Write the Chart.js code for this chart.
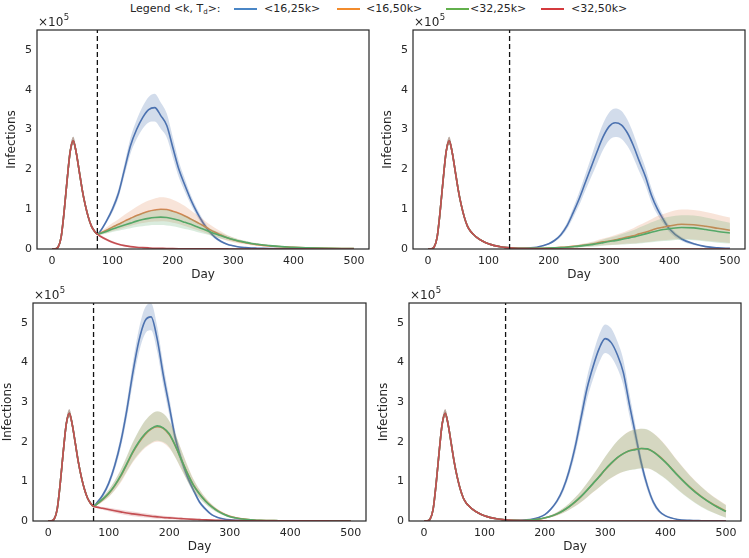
<!DOCTYPE html>
<html>
<head>
<meta charset="utf-8">
<script src="https://cdn.jsdelivr.net/npm/chart.js@4"></script>
<style>
  body { margin: 0; background: #fff; font-family: "DejaVu Sans", sans-serif; color: #262626; }
  #wrap { position: relative; width: 749px; height: 558px; }
  .panel { position: absolute; }
  .lg { position: absolute; top: 2px; font-size: 11px; line-height: 14px; white-space: nowrap; }
  .lg sub { font-size: 7px; vertical-align: -2px; }
  .ln { position: absolute; top: 8px; height: 2px; width: 23px; }
</style>
</head>
<body>
<div id="wrap">
  <span class="lg" style="left:130px">Legend &lt;k, T<sub>d</sub>&gt;:</span>
  <span class="ln" style="left:234px;background:#4a86c6"></span><span class="lg" style="left:264px">&lt;16,25k&gt;</span>
  <span class="ln" style="left:337px;background:#f28b2c"></span><span class="lg" style="left:366px">&lt;16,50k&gt;</span>
  <span class="ln" style="left:446px;background:#62b04c"></span><span class="lg" style="left:470px">&lt;32,25k&gt;</span>
  <span class="ln" style="left:541px;background:#d43a3d"></span><span class="lg" style="left:571px">&lt;32,50k&gt;</span>

  <div class="panel" style="left:5px;top:10px;width:366px;height:272px"><canvas id="pA"></canvas></div>
  <div class="panel" style="left:381px;top:10px;width:366px;height:272px"><canvas id="pB"></canvas></div>
  <div class="panel" style="left:1px;top:283px;width:367px;height:271px"><canvas id="pC"></canvas></div>
  <div class="panel" style="left:377px;top:283px;width:366px;height:271px"><canvas id="pD"></canvas></div>
</div>
<script>
// infections in units of 1e5, sampled on these days
const days = [0,5,10,15,20,25,30,35,40,45,50,55,60,65,70,
  75,80,90,100,110,120,130,140,150,160,170,180,190,200,210,220,230,240,250,260,270,280,290,300,
  310,320,330,340,350,360,370,380,390,400,420,440,460,480,500];
const xTicks = [0,100,200,300,400,500];
const yTicks = [0,1,2,3,4,5];
const seriesNames = ["<16,25k>", "<16,50k>", "<32,25k>", "<32,50k>"];

// first wave, days 0..70, same for every run
const firstWave = [0,0.005,0.05,0.3,0.95,1.75,2.45,2.72,2.42,1.95,1.48,1.1,0.8,0.58,0.45];
const firstWaveBand = [0,0.002,0.01,0.03,0.06,0.08,0.1,0.1,0.09,0.07,0.05,0.04,0.03,0.02,0.02];

// top left: switch at day 75 (days 75..500)
const a16_25 = [0.37,0.45,0.7,1.0,1.4,2.0,2.6,3.0,3.3,3.5,3.55,3.35,3.1,2.55,2.0,1.6,1.23,0.92,0.66,0.45,0.29,0.19,0.12,0.08,0.05,0.035,0.025,0.02,0.015,0.012,0.01,0.008,0.007,0.006,0.005,0.004,0.003,0.002,0.002];
const a16_50 = [0.37,0.4,0.47,0.55,0.62,0.7,0.77,0.84,0.9,0.95,0.98,1.0,0.99,0.95,0.9,0.83,0.75,0.67,0.59,0.5,0.42,0.35,0.28,0.23,0.19,0.16,0.13,0.11,0.09,0.075,0.065,0.055,0.047,0.04,0.03,0.022,0.016,0.012,0.01];
const a32_25 = [0.37,0.39,0.44,0.5,0.55,0.6,0.65,0.7,0.74,0.77,0.79,0.8,0.79,0.76,0.72,0.67,0.62,0.56,0.5,0.44,0.38,0.33,0.28,0.24,0.2,0.17,0.14,0.12,0.1,0.085,0.072,0.06,0.05,0.043,0.032,0.024,0.018,0.013,0.01];
const a32_50 = [0.37,0.32,0.24,0.17,0.12,0.085,0.06,0.045,0.035,0.027,0.02,0.016,0.012,0.01,0.008,0.006,0.005,0.004,0.003,0.003,0.002,0.002,0.002,0.001,0.001,0.001,0.001,0.001,0.001,0.001,0,0,0,0,0,0,0,0,0];
const a16_25Band = [0.02,0.03,0.05,0.08,0.11,0.15,0.2,0.24,0.28,0.32,0.35,0.33,0.3,0.25,0.2,0.16,0.12,0.1,0.08,0.06,0.04,0.03,0.02,0.015,0.01,0.01,0.008,0.006,0.005,0.005,0.004,0.004,0.003,0.003,0.003,0.002,0.002,0.002,0.002];
const a16_50Band = [0.02,0.04,0.07,0.1,0.13,0.16,0.19,0.22,0.25,0.27,0.29,0.3,0.3,0.29,0.27,0.25,0.22,0.19,0.16,0.13,0.11,0.09,0.07,0.06,0.05,0.04,0.035,0.03,0.025,0.02,0.018,0.015,0.013,0.012,0.01,0.008,0.006,0.005,0.004];
const a32_25Band = [0.02,0.03,0.05,0.07,0.09,0.11,0.13,0.15,0.17,0.18,0.19,0.2,0.2,0.19,0.18,0.17,0.15,0.13,0.11,0.09,0.08,0.07,0.06,0.05,0.04,0.035,0.03,0.025,0.02,0.018,0.015,0.013,0.011,0.01,0.008,0.006,0.005,0.004,0.003];
const a32_50Band = [0.02,0.03,0.03,0.03,0.025,0.02,0.015,0.012,0.01,0.008,0.006,0.005,0.004,0.003,0.003,0.002,0.002,0.002,0.001,0.001,0.001,0.001,0.001,0.001,0.001,0,0,0,0,0,0,0,0,0,0,0,0,0,0];

// top right: switch at day 135
const b16_25 = [0.37,0.3,0.2,0.13,0.085,0.055,0.035,0.022,0.018,0.02,0.028,0.045,0.08,0.13,0.22,0.36,0.58,0.9,1.25,1.65,2.05,2.45,2.82,3.08,3.17,3.12,2.92,2.6,2.2,1.82,1.35,1.0,0.73,0.5,0.25,0.13,0.06,0.03,0.015];
const b16_50 = [0.37,0.3,0.2,0.13,0.085,0.055,0.035,0.022,0.018,0.016,0.016,0.017,0.02,0.025,0.032,0.04,0.05,0.065,0.08,0.1,0.12,0.15,0.18,0.2,0.23,0.26,0.3,0.33,0.38,0.42,0.47,0.52,0.55,0.58,0.62,0.61,0.57,0.52,0.47];
const b32_25 = [0.37,0.3,0.2,0.13,0.085,0.055,0.035,0.022,0.018,0.016,0.015,0.016,0.018,0.022,0.028,0.035,0.045,0.058,0.072,0.09,0.11,0.13,0.16,0.19,0.21,0.24,0.27,0.3,0.34,0.38,0.42,0.46,0.49,0.51,0.54,0.53,0.49,0.44,0.4];
const b32_50 = [0.37,0.3,0.2,0.13,0.085,0.055,0.035,0.022,0.014,0.009,0.006,0.004,0.003,0.002,0.001,0,0,0,0,0,0,0,0,0,0,0,0,0,0,0,0,0,0,0,0,0,0,0,0];
const b16_25Band = [0.02,0.02,0.015,0.01,0.008,0.005,0.004,0.003,0.003,0.003,0.004,0.006,0.01,0.02,0.03,0.05,0.08,0.12,0.16,0.2,0.25,0.3,0.33,0.35,0.36,0.35,0.33,0.3,0.26,0.22,0.18,0.14,0.1,0.08,0.05,0.03,0.015,0.008,0.005];
const b16_50Band = [0.02,0.02,0.015,0.01,0.008,0.005,0.004,0.003,0.003,0.003,0.003,0.004,0.005,0.007,0.01,0.014,0.02,0.027,0.035,0.045,0.055,0.07,0.085,0.1,0.12,0.14,0.16,0.19,0.22,0.25,0.28,0.31,0.33,0.35,0.37,0.37,0.36,0.34,0.32];
const b32_25Band = [0.02,0.02,0.015,0.01,0.008,0.005,0.004,0.003,0.003,0.003,0.003,0.004,0.005,0.007,0.01,0.014,0.02,0.026,0.033,0.042,0.052,0.065,0.08,0.095,0.11,0.13,0.15,0.17,0.2,0.22,0.25,0.27,0.29,0.3,0.31,0.31,0.3,0.28,0.26];
const b32_50Band = [0.02,0.02,0.015,0.01,0.008,0.005,0.004,0.003,0.002,0.001,0.001,0,0,0,0,0,0,0,0,0,0,0,0,0,0,0,0,0,0,0,0,0,0,0,0,0,0,0,0];

// bottom left: switch at day 75
const c16_25 = [0.37,0.45,0.65,0.95,1.4,2.0,2.8,3.75,4.55,5.05,5.15,4.6,3.7,2.9,2.1,1.55,1.12,0.78,0.48,0.3,0.16,0.09,0.05,0.03,0.02,0.015,0.01,0.008,0.006,0.005,0.004,0.003,0.003,0.002,0.002,0.001,0.001,0.001,0.001];
const c16_50 = [0.37,0.42,0.54,0.69,0.89,1.13,1.43,1.73,1.98,2.18,2.32,2.38,2.34,2.18,1.9,1.55,1.21,0.91,0.69,0.51,0.37,0.26,0.18,0.12,0.08,0.055,0.038,0.027,0.019,0.014,0.011,0.008,0.006,0.005,0.003,0.002,0.002,0.001,0.001];
const c32_25 = [0.37,0.42,0.55,0.7,0.9,1.15,1.45,1.75,2.0,2.2,2.33,2.4,2.35,2.2,1.9,1.55,1.2,0.9,0.68,0.5,0.36,0.25,0.17,0.11,0.075,0.05,0.035,0.025,0.018,0.013,0.01,0.008,0.006,0.005,0.003,0.002,0.002,0.001,0.001];
const c32_50 = [0.37,0.35,0.32,0.29,0.26,0.23,0.2,0.18,0.16,0.14,0.12,0.105,0.09,0.08,0.07,0.06,0.05,0.042,0.035,0.028,0.022,0.018,0.014,0.011,0.009,0.008,0.007,0.006,0.005,0.004,0.004,0.003,0.003,0.003,0.002,0.002,0.002,0.001,0.001];
const c16_25Band = [0.02,0.03,0.05,0.08,0.11,0.15,0.2,0.26,0.3,0.33,0.34,0.32,0.27,0.22,0.17,0.13,0.1,0.07,0.05,0.035,0.02,0.012,0.008,0.005,0.004,0.003,0.002,0.002,0.002,0.001,0.001,0.001,0.001,0.001,0.001,0.001,0.001,0.001,0.001];
const c16_50Band = [0.02,0.03,0.06,0.09,0.12,0.16,0.2,0.25,0.3,0.34,0.37,0.38,0.37,0.34,0.3,0.25,0.2,0.15,0.11,0.08,0.06,0.045,0.032,0.022,0.015,0.01,0.008,0.006,0.004,0.003,0.002,0.002,0.002,0.001,0.001,0.001,0.001,0.001,0.001];
const c32_25Band = [0.02,0.03,0.06,0.09,0.12,0.15,0.19,0.24,0.29,0.33,0.36,0.37,0.36,0.33,0.29,0.24,0.19,0.15,0.11,0.08,0.06,0.045,0.032,0.022,0.015,0.01,0.008,0.006,0.004,0.003,0.002,0.002,0.002,0.001,0.001,0.001,0.001,0.001,0.001];
const c32_50Band = [0.01,0.02,0.035,0.045,0.05,0.055,0.058,0.058,0.056,0.053,0.05,0.046,0.042,0.038,0.034,0.03,0.026,0.022,0.019,0.016,0.013,0.011,0.009,0.007,0.006,0.005,0.004,0.003,0.003,0.002,0.002,0.002,0.001,0.001,0.001,0.001,0.001,0.001,0.001];

// bottom right: switch at day 135
const d16_25 = [0.37,0.3,0.2,0.13,0.085,0.055,0.035,0.02,0.018,0.02,0.03,0.05,0.09,0.16,0.3,0.5,0.8,1.25,1.85,2.6,3.35,3.9,4.35,4.6,4.5,4.2,3.75,2.95,2.2,1.45,0.88,0.47,0.24,0.13,0.04,0.015,0.008,0.004,0.002];
const d16_50 = [0.37,0.3,0.2,0.13,0.085,0.055,0.035,0.02,0.015,0.014,0.019,0.029,0.048,0.078,0.118,0.178,0.258,0.355,0.475,0.615,0.775,0.945,1.115,1.295,1.455,1.595,1.7,1.775,1.81,1.83,1.815,1.745,1.63,1.49,1.16,0.86,0.61,0.41,0.25];
const d32_25 = [0.37,0.3,0.2,0.13,0.085,0.055,0.035,0.02,0.015,0.014,0.02,0.03,0.05,0.08,0.12,0.18,0.26,0.36,0.48,0.62,0.78,0.95,1.12,1.3,1.46,1.6,1.7,1.77,1.8,1.83,1.82,1.74,1.62,1.48,1.15,0.85,0.6,0.4,0.24];
const d32_50 = [0.37,0.3,0.2,0.13,0.085,0.055,0.035,0.022,0.014,0.009,0.006,0.004,0.003,0.002,0.001,0,0,0,0,0,0,0,0,0,0,0,0,0,0,0,0,0,0,0,0,0,0,0,0];
const d16_25Band = [0.02,0.02,0.015,0.01,0.008,0.005,0.004,0.003,0.003,0.003,0.004,0.006,0.01,0.018,0.03,0.05,0.08,0.12,0.17,0.23,0.28,0.32,0.35,0.36,0.36,0.34,0.32,0.28,0.22,0.16,0.11,0.07,0.04,0.025,0.01,0.005,0.003,0.002,0.001];
const d16_50Band = [0.02,0.02,0.015,0.01,0.008,0.005,0.004,0.003,0.003,0.003,0.004,0.006,0.01,0.016,0.025,0.04,0.06,0.08,0.11,0.14,0.18,0.22,0.27,0.32,0.37,0.42,0.46,0.49,0.5,0.5,0.49,0.47,0.45,0.42,0.36,0.3,0.25,0.2,0.16];
const d32_25Band = [0.02,0.02,0.015,0.01,0.008,0.005,0.004,0.003,0.003,0.003,0.004,0.006,0.01,0.016,0.025,0.04,0.06,0.08,0.11,0.14,0.18,0.22,0.27,0.32,0.37,0.42,0.46,0.49,0.5,0.5,0.49,0.47,0.45,0.42,0.36,0.3,0.25,0.2,0.16];
const d32_50Band = b32_50Band;

const lineColors = ['#4c72b0', '#dd8452', '#55a868', '#c44e52'];
const bandColors = ['rgba(76,114,176,0.25)', 'rgba(221,132,82,0.22)', 'rgba(85,168,104,0.22)', 'rgba(196,78,82,0.22)'];
const ink = '#262626';

const panels = [
  { id: 'pA', cut: 75, series: [a16_25, a16_50, a32_25, a32_50], bands: [a16_25Band, a16_50Band, a32_25Band, a32_50Band] },
  { id: 'pB', cut: 135, series: [b16_25, b16_50, b32_25, b32_50], bands: [b16_25Band, b16_50Band, b32_25Band, b32_50Band] },
  { id: 'pC', cut: 75, series: [c16_25, c16_50, c32_25, c32_50], bands: [c16_25Band, c16_50Band, c32_25Band, c32_50Band] },
  { id: 'pD', cut: 135, series: [d16_25, d16_50, d32_25, d32_50], bands: [d16_25Band, d16_50Band, d32_25Band, d32_50Band] },
];

// box around the plot plus the x10^5 note above it
const frame = {
  id: 'frame',
  afterDatasetsDraw(chart) {
    const { ctx, chartArea: a } = chart;
    ctx.save();
    ctx.strokeStyle = ink;
    ctx.lineWidth = 1.2;
    ctx.strokeRect(a.left, a.top, a.right - a.left, a.bottom - a.top);
    ctx.fillStyle = ink;
    ctx.textBaseline = 'alphabetic';
    ctx.font = '12px "DejaVu Sans"';
    ctx.fillText('×10', a.left + 1, a.top - 4);
    const w = ctx.measureText('×10').width;
    ctx.font = '8.5px "DejaVu Sans"';
    ctx.fillText('5', a.left + 1.5 + w, a.top - 10);
    ctx.restore();
  }
};

function datasetsFor(p) {
  const ds = [{
    data: [{ x: p.cut, y: 0 }, { x: p.cut, y: 5.5 }],
    borderColor: '#111', borderWidth: 1.3, borderDash: [5, 3], pointRadius: 0, fill: false
  }];
  for (let i = seriesNames.length - 1; i >= 0; i--) {
    const mean = firstWave.concat(p.series[i]);
    const band = firstWaveBand.concat(p.bands[i]);
    ds.push({
      label: seriesNames[i],
      data: days.map((d, k) => ({ x: d, y: mean[k] })),
      borderColor: lineColors[i], borderWidth: 1.6, pointRadius: 0, fill: false,
      cubicInterpolationMode: 'monotone'
    });
    ds.push({
      data: days.map((d, k) => ({ x: d, y: mean[k] + band[k] })),
      borderColor: 'rgba(0,0,0,0)', borderWidth: 0, pointRadius: 0,
      backgroundColor: bandColors[i], fill: '+1', cubicInterpolationMode: 'monotone'
    });
    ds.push({
      data: days.map((d, k) => ({ x: d, y: Math.max(0, mean[k] - band[k]) })),
      borderColor: 'rgba(0,0,0,0)', borderWidth: 0, pointRadius: 0, fill: false,
      cubicInterpolationMode: 'monotone'
    });
  }
  return ds;
}

for (const p of panels) {
  new Chart(document.getElementById(p.id), {
    type: 'line',
    data: { datasets: datasetsFor(p) },
    plugins: [frame],
    options: {
      responsive: true,
      maintainAspectRatio: false,
      animation: false,
      layout: { padding: { top: 20, right: 2, left: 0, bottom: 0 } },
      plugins: { legend: { display: false }, tooltip: { enabled: false } },
      scales: {
        x: {
          type: 'linear', min: -25, max: 525,
          afterBuildTicks: s => { s.ticks = xTicks.map(v => ({ value: v })); },
          afterFit: s => { s.height = 33; },
          grid: { display: false, drawTicks: false },
          border: { display: false },
          ticks: { color: ink, padding: 6, font: { family: 'DejaVu Sans', size: 11 } },
          title: { display: true, text: 'Day', color: ink, padding: 0, font: { family: 'DejaVu Sans', size: 12 } }
        },
        y: {
          min: 0, max: 5.5,
          afterBuildTicks: s => { s.ticks = yTicks.map(v => ({ value: v })); },
          afterFit: s => { s.width = 32; },
          grid: { display: false, drawTicks: false },
          border: { display: false },
          ticks: { color: ink, padding: 5, font: { family: 'DejaVu Sans', size: 11 } },
          title: { display: true, text: 'Infections', color: ink, padding: 0, font: { family: 'DejaVu Sans', size: 12 } }
        }
      }
    }
  });
}
</script>
</body>
</html>
